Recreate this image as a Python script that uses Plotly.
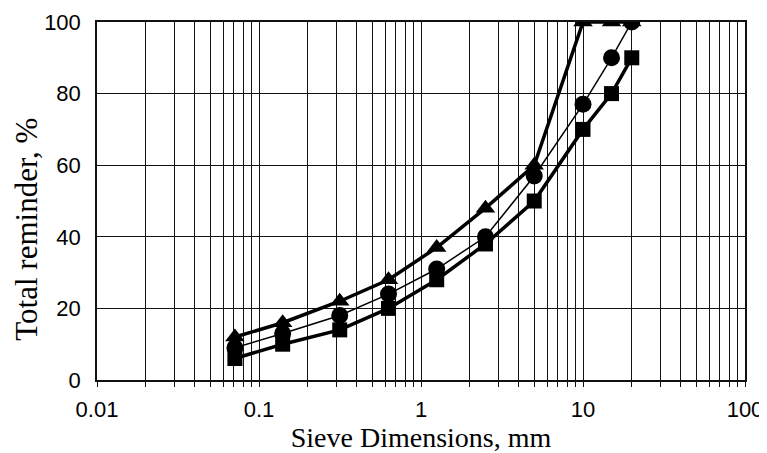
import plotly.graph_objects as go

sieve_mm = [0.071, 0.14, 0.315, 0.63, 1.25, 2.5, 5, 10, 15, 20]
triangle_vals = [12, 16, 22, 28, 37, 48, 60, 100, 100, 100]
circle_vals = [9, 13, 18, 24, 31, 40, 57, 77, 90, 100]
square_vals = [6, 10, 14, 20, 28, 38, 50, 70, 80, 90]

x_tick_vals = [m * 10 ** e for e in range(-2, 2) for m in range(1, 10)] + [100]
x_tick_text = [("%g" % v) if v in (0.01, 0.1, 1, 10, 100) else "" for v in x_tick_vals]
y_tick_vals = [0, 20, 40, 60, 80, 100]

fig = go.Figure()
fig.add_trace(go.Scatter(x=sieve_mm, y=square_vals, mode="lines+markers",
                         line=dict(color="black", width=3.5),
                         marker=dict(symbol="square", size=15, color="black")))
fig.add_trace(go.Scatter(x=sieve_mm, y=circle_vals, mode="lines+markers",
                         line=dict(color="black", width=1.5),
                         marker=dict(symbol="circle", size=17, color="black")))
fig.add_trace(go.Scatter(x=sieve_mm, y=triangle_vals, mode="lines+markers",
                         line=dict(color="black", width=3.5),
                         marker=dict(symbol="triangle-up", size=17, color="black")))

fig.update_layout(
    width=759, height=445,
    margin=dict(l=89, r=22, t=14, b=73),
    paper_bgcolor="white", plot_bgcolor="white",
    showlegend=False,
    font=dict(family="Liberation Sans, Arial", size=22, color="black"),
    xaxis=dict(type="log", range=[-2, 2], tickvals=x_tick_vals, ticktext=x_tick_text,
               showgrid=True, gridcolor="#111", gridwidth=1.3, automargin=False,
               showline=True, linecolor="#111", linewidth=1.5, mirror=True,
               ticks="outside", ticklen=5, tickcolor="#111", ticklabelstandoff=4,
               zeroline=False,
               title=dict(text="Sieve Dimensions, mm",
                          font=dict(family="Liberation Serif, Times New Roman", size=28),
                          standoff=8)),
    yaxis=dict(range=[0, 100], tickvals=y_tick_vals, automargin=False,
               showgrid=True, gridcolor="#111", gridwidth=1.3,
               showline=True, linecolor="#111", linewidth=1.5, mirror=True,
               ticks="", ticklabelstandoff=10, zeroline=False),
    annotations=[dict(text="Total reminder, %", textangle=-90, showarrow=False,
                      xref="paper", yref="paper", x=-0.108, y=0.42,
                      xanchor="center", yanchor="middle",
                      font=dict(family="Liberation Serif, Times New Roman", size=31))],
)

fig.write_html("out.html")
